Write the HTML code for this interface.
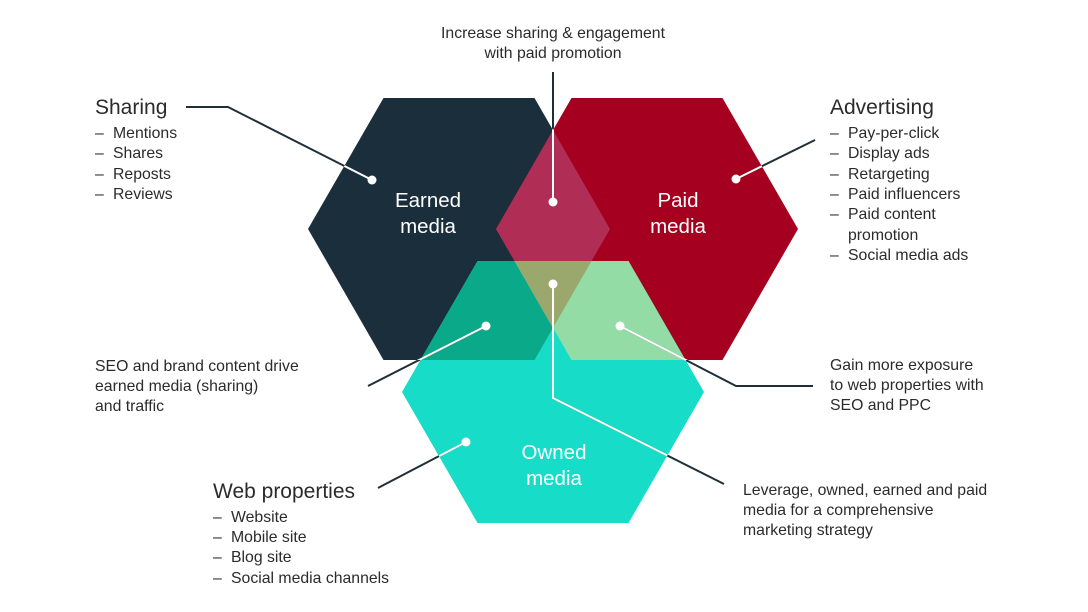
<!DOCTYPE html>
<html><head><meta charset="utf-8"><style>
html,body{margin:0;padding:0;background:#fff;}
svg{display:block}
text{font-family:"Liberation Sans",sans-serif;fill:#2b2b2b;}
.t{font-size:21px;}
.l{font-size:15.8px;}
.w{fill:#fff;font-size:20.5px;}
</style></head><body>
<svg width="1088" height="612" viewBox="0 0 1088 612" xmlns="http://www.w3.org/2000/svg">
<defs>
<polygon id="E" points="308,229 383.5,98 534.5,98 610,229 534.5,360 383.5,360"/>
<polygon id="P" points="496,229 571.5,98 722.5,98 798,229 722.5,360 571.5,360"/>
<polygon id="O" points="402,392 477.5,261 628.5,261 704,392 628.5,523 477.5,523"/>
<clipPath id="cE"><use href="#E"/></clipPath>
<clipPath id="cP"><use href="#P"/></clipPath>
<clipPath id="cO"><use href="#O"/></clipPath>
<clipPath id="cAll"><use href="#E"/><use href="#P"/><use href="#O"/></clipPath>
</defs>
<use href="#E" fill="#1b2e3c"/>
<use href="#P" fill="#a5001f"/>
<use href="#O" fill="#16dcc8"/>
<g clip-path="url(#cE)"><use href="#P" fill="#b02e55"/><use href="#O" fill="#0aa98a"/></g>
<g clip-path="url(#cP)"><use href="#O" fill="#93dca6"/></g>
<g clip-path="url(#cE)"><g clip-path="url(#cP)"><use href="#O" fill="#9aa86e"/></g></g>

<g stroke="#1f2f3a" stroke-width="2" fill="none">
<polyline points="186,107 228,107 372,180"/>
<polyline points="815,140 736,179"/>
<line x1="553" y1="72" x2="553" y2="202"/>
<polyline points="368,386 486,326"/>
<polyline points="620,326 736,386 813,386"/>
<polyline points="378,488 466,442"/>
<polyline points="553,284 553,398 724,484"/>
</g>
<g stroke="#fff" stroke-width="2" fill="none" clip-path="url(#cAll)">
<polyline points="186,107 228,107 372,180"/>
<polyline points="815,140 736,179"/>
<line x1="553" y1="72" x2="553" y2="202"/>
<polyline points="368,386 486,326"/>
<polyline points="620,326 736,386 813,386"/>
<polyline points="378,488 466,442"/>
<polyline points="553,284 553,398 724,484"/>
</g>
<g fill="#fff">
<circle cx="372" cy="180" r="4.5"/><circle cx="736" cy="179" r="4.5"/>
<circle cx="553" cy="202" r="4.5"/><circle cx="553" cy="284" r="4.5"/>
<circle cx="486" cy="326" r="4.5"/><circle cx="620" cy="326" r="4.5"/>
<circle cx="466" cy="442" r="4.5"/>
</g>

<text class="w" x="428" y="207" text-anchor="middle">Earned</text>
<text class="w" x="428" y="233" text-anchor="middle">media</text>
<text class="w" x="678" y="207" text-anchor="middle">Paid</text>
<text class="w" x="678" y="233" text-anchor="middle">media</text>
<text class="w" x="554" y="459" text-anchor="middle">Owned</text>
<text class="w" x="554" y="485" text-anchor="middle">media</text>

<text class="l" x="553" y="38" text-anchor="middle">Increase sharing &amp; engagement</text>
<text class="l" x="553" y="58" text-anchor="middle">with paid promotion</text>

<text class="t" x="95" y="114">Sharing</text>
<g class="l">
<text class="l" x="95" y="138">–</text><text class="l" x="113" y="138">Mentions</text>
<text class="l" x="95" y="158">–</text><text class="l" x="113" y="158">Shares</text>
<text class="l" x="95" y="179">–</text><text class="l" x="113" y="179">Reposts</text>
<text class="l" x="95" y="199">–</text><text class="l" x="113" y="199">Reviews</text>
</g>

<text class="t" x="830" y="114">Advertising</text>
<text class="l" x="830" y="138">–</text><text class="l" x="848" y="138">Pay-per-click</text>
<text class="l" x="830" y="158">–</text><text class="l" x="848" y="158">Display ads</text>
<text class="l" x="830" y="179">–</text><text class="l" x="848" y="179">Retargeting</text>
<text class="l" x="830" y="199">–</text><text class="l" x="848" y="199">Paid influencers</text>
<text class="l" x="830" y="219">–</text><text class="l" x="848" y="219">Paid content</text>
<text class="l" x="848" y="240">promotion</text>
<text class="l" x="830" y="260">–</text><text class="l" x="848" y="260">Social media ads</text>

<text class="l" x="95" y="371">SEO and brand content drive</text>
<text class="l" x="95" y="391">earned media (sharing)</text>
<text class="l" x="95" y="411">and traffic</text>

<text class="l" x="830" y="370">Gain more exposure</text>
<text class="l" x="830" y="390">to web properties with</text>
<text class="l" x="830" y="410">SEO and PPC</text>

<text class="l" x="743" y="495">Leverage, owned, earned and paid</text>
<text class="l" x="743" y="515">media for a comprehensive</text>
<text class="l" x="743" y="535">marketing strategy</text>

<text class="t" x="213" y="498">Web properties</text>
<text class="l" x="213" y="522">–</text><text class="l" x="231" y="522">Website</text>
<text class="l" x="213" y="542">–</text><text class="l" x="231" y="542">Mobile site</text>
<text class="l" x="213" y="562">–</text><text class="l" x="231" y="562">Blog site</text>
<text class="l" x="213" y="583">–</text><text class="l" x="231" y="583">Social media channels</text>
</svg>
</body></html>
